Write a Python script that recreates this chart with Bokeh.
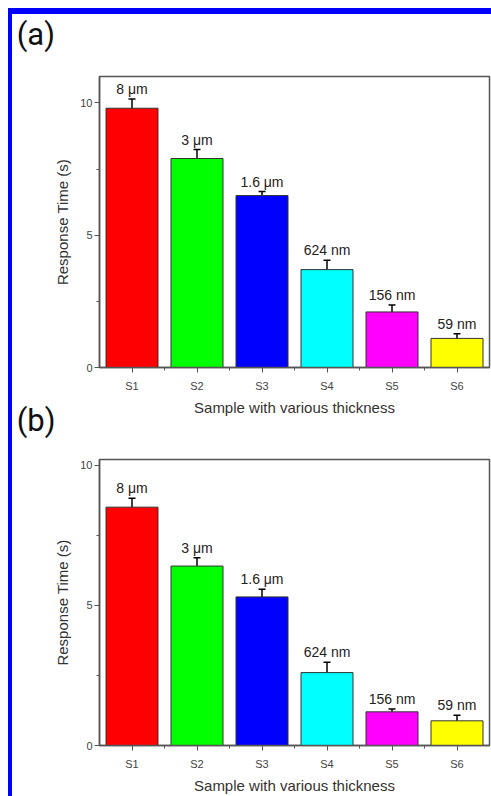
from bokeh.plotting import figure
from bokeh.models import (Range1d, FixedTicker, Whisker, TeeHead, ColumnDataSource,
                          LabelSet, Label)
from bokeh.core.properties import value
from bokeh.layouts import column
from bokeh.embed import file_html
from bokeh.resources import INLINE

samples = ["S1", "S2", "S3", "S4", "S5", "S6"]
thickness = ["8 μm", "3 μm", "1.6 μm", "624 nm", "156 nm", "59 nm"]
colors = ["#ff0000", "#00ff00", "#0000ff", "#00ffff", "#ff00ff", "#ffff00"]

time_a = [9.8, 7.9, 6.5, 3.7, 2.1, 1.1]
err_a = [0.35, 0.34, 0.15, 0.35, 0.26, 0.18]

time_b = [8.5, 6.4, 5.3, 2.6, 1.2, 0.88]
err_b = [0.32, 0.3, 0.27, 0.37, 0.1, 0.2]

y_ticks = [0, 5, 10]
y_minor = [2.5, 7.5]

FONT = "Liberation Sans"
AXC = "#555555"


def tag(text, x, y):
    return Label(x=x, y=y, text=text, text_baseline="alphabetic", text_align="left",
                 text_font="Roboto", text_font_size="31px", text_color="#111111")


def make_panel(vals, errs, ymax, height, mtop, mbottom):
    xs = [i + 0.5 for i in range(len(samples))]
    src = ColumnDataSource(dict(
        x=xs, top=vals, color=colors, label=thickness,
        upper=[v + e for v, e in zip(vals, errs)],
        lower=[v - e for v, e in zip(vals, errs)],
    ))
    p = figure(width=479, height=height, x_range=Range1d(0, len(samples)),
               y_range=Range1d(0, ymax), output_backend="svg", toolbar_location=None,
               min_border_left=86, min_border_right=2, min_border_top=mtop,
               min_border_bottom=mbottom, background_fill_color="white",
               border_fill_color="white")
    p.grid.visible = False
    p.outline_line_color = AXC
    p.outline_line_width = 1.5

    p.vbar(x="x", top="top", width=0.8, fill_color="color", line_color="#333333",
           line_width=1, source=src)
    w = Whisker(base="x", upper="upper", lower="lower", source=src,
                line_color="black", line_width=1.5,
                upper_head=TeeHead(size=7, line_color="black", line_width=1.5),
                lower_head=TeeHead(size=7, line_color="black", line_width=1.5))
    p.add_layout(w)
    labels = LabelSet(x="x", y="upper", text="label", source=src, text_align="center",
                      text_baseline="alphabetic", y_offset=5, text_font=value(FONT),
                      text_font_size=value("14px"), text_color=value("#222222"))
    p.add_layout(labels)

    xa = p.xaxis[0]
    xa.ticker = FixedTicker(ticks=xs, minor_ticks=[i for i in range(1, len(samples))])
    xa.major_label_overrides = {x: s for x, s in zip(xs, samples)}
    xa.axis_label = "Sample with various thickness"
    ya = p.yaxis[0]
    ya.ticker = FixedTicker(ticks=y_ticks, minor_ticks=y_minor)
    ya.axis_label = "Response Time (s)"
    for ax in (xa, ya):
        ax.axis_line_color = AXC
        ax.axis_line_width = 1.5
        ax.major_tick_line_color = AXC
        ax.minor_tick_line_color = AXC
        ax.major_tick_in = 0
        ax.major_tick_out = 5
        ax.minor_tick_in = 0
        ax.minor_tick_out = 3
        ax.major_label_text_font = FONT
        ax.major_label_text_font_size = "11px"
        ax.major_label_text_color = "#444444"
        ax.axis_label_text_font = FONT
        ax.axis_label_text_font_size = "15px"
        ax.axis_label_text_font_style = "normal"
        ax.axis_label_text_color = "#333333"
    xa.major_label_standoff = 7
    ya.major_label_standoff = 2
    xa.axis_label_standoff = 4
    ya.axis_label_standoff = 6
    return p


p1 = make_panel(time_a, err_a, 11.0, 430, 62, 77)
p1.add_layout(tag("(a)", -1.274, 12.6), "above")
p1.add_layout(tag("(b)", -1.274, -2.0), "left")

p2 = make_panel(time_b, err_b, 10.2, 352, 15, 48)

layout = column(p1, p2, spacing=0,
                styles={"margin-left": "8px", "margin-top": "8px",
                        "border-left": "4px solid #0000ff", "border-top": "6px solid #0000ff"})

open("out.html", "w").write(file_html(layout, INLINE))
